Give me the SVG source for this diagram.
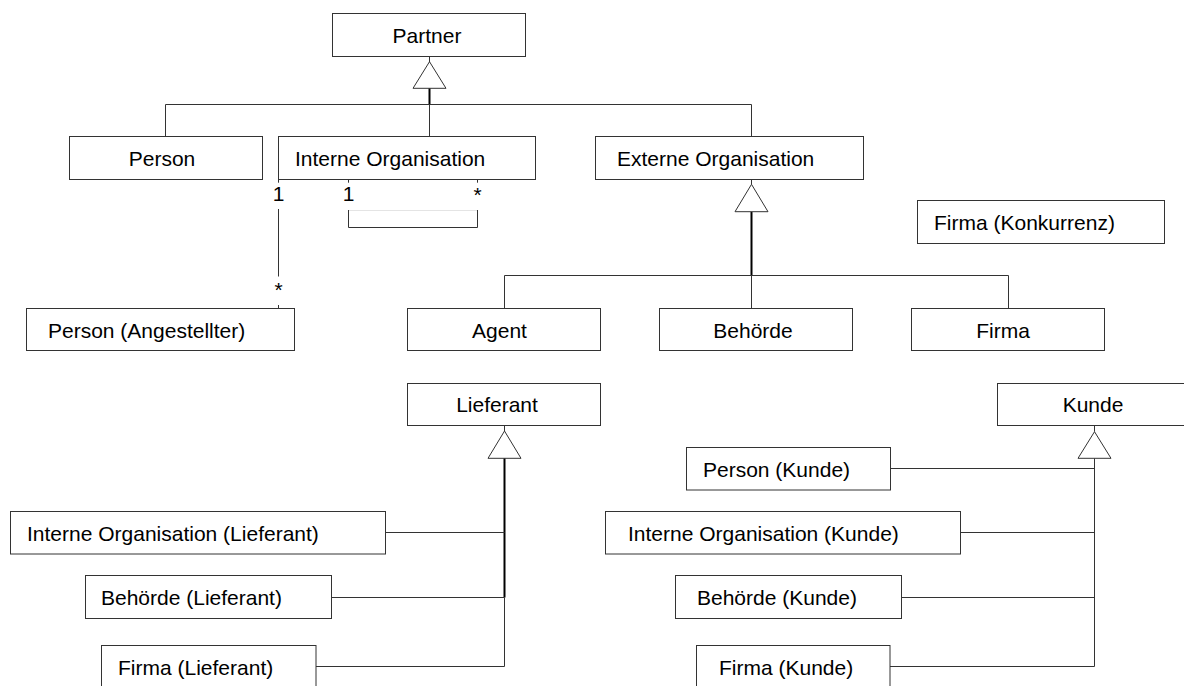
<svg xmlns="http://www.w3.org/2000/svg" width="1184" height="686" viewBox="0 0 1184 686">
<style>
.box{fill:#fff;stroke:#333;stroke-width:1}
.t{font-family:"Liberation Sans",Arial,sans-serif;font-size:21px;fill:#000}
.m{text-anchor:middle}
.ln{fill:none;stroke:#333;stroke-width:1}
.thk{fill:none;stroke:#000;stroke-width:2}
.tri{fill:#fff;stroke:#333;stroke-width:1}
</style>
<rect width="1184" height="686" fill="#fff"/>
<g id="connectors">
  <!-- Partner generalization -->
  <path class="ln" d="M429.5 56.5V62"/>
  <path class="thk" d="M429.5 88V104.5"/>
  <path class="ln" d="M429.5 104.5V136.5M165.5 104.5H751.5M165.5 104.5V136.5M751.5 104.5V136.5"/>
  <polygon class="tri" points="429.5,61.7 413,88.3 446,88.3"/>
  <!-- Externe Organisation generalization -->
  <path class="ln" d="M751.5 179.5V184.5"/>
  <path class="thk" d="M751.5 211.5V275.5"/>
  <path class="ln" d="M504.5 275.5H1008.5M504.5 275.5V308.5M751.5 275.5V308.5M1008.5 275.5V308.5"/>
  <polygon class="tri" points="751.5,184.3 735,211.7 768,211.7"/>
  <!-- Lieferant generalization -->
  <path class="ln" d="M504.5 425.5V431"/>
  <path class="thk" d="M504.5 458V597.5"/>
  <path class="ln" d="M504.5 597.5V666.5M385.5 532.5H504.5M331.5 597.5H504.5M316 666.5H504.5"/>
  <polygon class="tri" points="504.5,431 488,458.3 521,458.3"/>
  <!-- Kunde generalization -->
  <path class="ln" d="M1094.5 425.5V431.7M1094.5 458.3V666.5M890.5 468.5H1094.5M960.5 532.5H1094.5M901.5 597.5H1094.5M890 666.5H1094.5"/>
  <polygon class="tri" points="1094.5,431.7 1078,458.3 1111,458.3"/>
  <!-- Association Interne Organisation - Person (Angestellter) -->
  <path class="ln" d="M278.5 179.5V182.7M278.5 209V276.5M278.5 305V308.5"/>
  <text class="t m" x="278.5" y="200.5">1</text>
  <text class="t m" x="278.5" y="297">*</text>
  <!-- Self association Interne Organisation -->
  <path class="ln" d="M348.5 179.5V182.7M477.5 179.5V182.7"/>
  <path fill="none" stroke="#e4e4e4" stroke-width="1" d="M348.5 210.5H477.5"/>
  <path class="ln" d="M348.5 210V227.5H477.5V210"/>
  <text class="t m" x="348.5" y="200.5">1</text>
  <text class="t m" x="477.5" y="202">*</text>
</g>
<g id="partner"><rect class="box" x="332.5" y="13.5" width="193" height="43"/><text class="t m" x="427" y="43">Partner</text></g>
<g id="person"><rect class="box" x="69.5" y="136.5" width="193" height="43"/><text class="t m" x="162" y="166">Person</text></g>
<g id="interne-organisation"><rect class="box" x="278.5" y="136.5" width="257" height="43"/><text class="t" x="295" y="166">Interne Organisation</text></g>
<g id="externe-organisation"><rect class="box" x="595.5" y="136.5" width="268" height="43"/><text class="t" x="617" y="166">Externe Organisation</text></g>
<g id="firma-konkurrenz"><rect class="box" x="917.5" y="200.5" width="247" height="43"/><text class="t" x="934" y="230">Firma (Konkurrenz)</text></g>
<g id="person-angestellter"><rect class="box" x="26.5" y="308.5" width="268" height="42"/><text class="t" x="48" y="338">Person (Angestellter)</text></g>
<g id="agent"><rect class="box" x="407.5" y="308.5" width="193" height="42"/><text class="t m" x="499.5" y="338">Agent</text></g>
<g id="behoerde"><rect class="box" x="659.5" y="308.5" width="193" height="42"/><text class="t m" x="753" y="338">Behörde</text></g>
<g id="firma"><rect class="box" x="911.5" y="308.5" width="193" height="42"/><text class="t m" x="1003" y="338">Firma</text></g>
<g id="lieferant"><rect class="box" x="407.5" y="383.5" width="193" height="42"/><text class="t m" x="497" y="412">Lieferant</text></g>
<g id="kunde"><rect class="box" x="997.5" y="383.5" width="194" height="42"/><text class="t m" x="1093" y="412">Kunde</text></g>
<g id="io-lieferant"><rect class="box" x="10.5" y="511.5" width="375" height="42.5"/><text class="t" x="27" y="541">Interne Organisation (Lieferant)</text></g>
<g id="behoerde-lieferant"><rect class="box" x="85.5" y="575.5" width="246" height="43"/><text class="t" x="101" y="605">Behörde (Lieferant)</text></g>
<g id="firma-lieferant"><rect class="box" x="101.5" y="645.5" width="214.5" height="50"/><text class="t" x="118" y="675">Firma (Lieferant)</text></g>
<g id="person-kunde"><rect class="box" x="686.5" y="447.5" width="204" height="42.5"/><text class="t" x="703" y="477">Person (Kunde)</text></g>
<g id="io-kunde"><rect class="box" x="605.5" y="511.5" width="355" height="42.5"/><text class="t" x="628" y="541">Interne Organisation (Kunde)</text></g>
<g id="behoerde-kunde"><rect class="box" x="675.5" y="575.5" width="226" height="43"/><text class="t" x="697" y="605">Behörde (Kunde)</text></g>
<g id="firma-kunde"><rect class="box" x="696.5" y="645.5" width="193.5" height="50"/><text class="t" x="719" y="675">Firma (Kunde)</text></g>
</svg>
